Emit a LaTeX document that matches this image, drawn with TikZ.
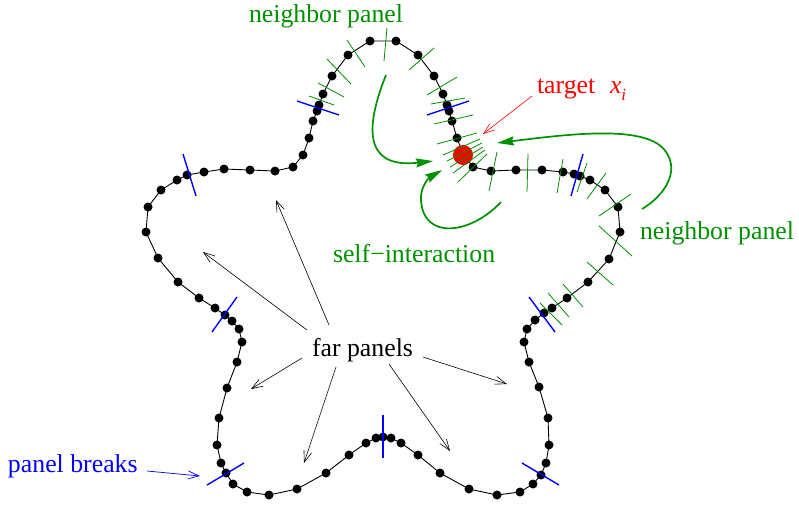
\documentclass[tikz,border=0pt]{standalone}
\usepackage{fontspec}
\setmainfont{Liberation Serif}
\usetikzlibrary{arrows.meta}
\definecolor{gr}{RGB}{0,145,0}
\definecolor{bl}{RGB}{0,0,255}
\definecolor{rd}{RGB}{255,0,0}
\tikzset{
  lbl/.style={font=\fontsize{25.8}{30}\selectfont, inner sep=0pt, outer sep=0pt, anchor=base west},
  curveline/.style={black, line width=0.9pt, line join=round},
  dotfill/.style={fill=black},
  gtick/.style={gr, line width=0.8pt},
  btick/.style={bl, line width=1.4pt},
  garrow/.style={gr, line width=1.7pt, -{Stealth[length=17pt,width=9pt,inset=2pt]}},
  fararrow/.style={black, line width=0.6pt, -{Straight Barb[length=11pt,width=8pt]}},
  rarrow/.style={rd, line width=0.6pt, -{Straight Barb[length=11pt,width=8pt]}},
  barrow/.style={bl, line width=0.7pt, -{Straight Barb[length=11pt,width=8pt]}},
}
\begin{document}
\begin{tikzpicture}[x=1pt,y=-1pt]
\useasboundingbox (0,0) rectangle (799,512);
% curve
\draw[curveline] (370,41)--(396,41)--(418,55)--(434,76)--(443,94)--(447,105)--(449,111)--(452,121)--(457,138)--(463,154)--(473,167)--(491,171)--(516,170)--(542,170)--(563,172)--(574,174)--(580,176)--(590,180)--(605,190)--(618,207)--(620,232)--(609,259)--(588,282)--(567,298)--(552,308)--(544,313)--(535,320)--(527,329)--(524,342)--(529,362)--(539,387)--(548,418)--(549,445)--(546,463)--(541,475)--(533,484)--(520,492)--(497,495)--(469,489)--(440,473)--(418,455)--(401,443)--(391,438)--(383,437)--(376,438)--(366,443)--(349,455)--(326,473)--(297,489)--(269,495)--(247,492)--(233,484)--(226,473)--(221,463)--(217,445)--(219,418)--(227,388)--(237,362)--(242,342)--(239,329)--(232,321)--(225,315)--(215,308)--(199,298)--(178,282)--(158,258)--(146,232)--(148,207)--(161,190)--(177,180)--(187,175)--(204,172)--(224,169)--(250,170)--(275,171)--(293,167)--(303,155)--(309,138)--(313,121)--(317,111)--(319,105)--(323,94)--(332,76)--(348,55)--cycle;
% dots
\foreach \p in {(370,41),(396,41),(418,55),(434,76),(443,94),(447,105),(449,111),(452,121),(457,138),(473,167),(491,171),(516,170),(542,170),(563,172),(574,174),(580,176),(590,180),(605,190),(618,207),(620,232),(609,259),(588,282),(567,298),(552,308),(544,313),(535,320),(527,329),(524,342),(529,362),(539,387),(548,418),(549,445),(546,463),(541,475),(533,484),(520,492),(497,495),(469,489),(440,473),(418,455),(401,443),(391,438),(383,437),(376,438),(366,443),(349,455),(326,473),(297,489),(269,495),(247,492),(233,484),(226,473),(221,463),(217,445),(219,418),(227,388),(237,362),(242,342),(239,329),(232,321),(225,315),(215,308),(199,298),(178,282),(158,258),(146,232),(148,207),(161,190),(177,180),(187,175),(204,172),(224,169),(250,170),(275,171),(293,167),(303,155),(309,138),(313,121),(317,111),(319,105),(323,94),(332,76),(348,55)}
  \fill[dotfill] \p circle (4.5pt);
% target
\fill[rd] (463,155) circle (10pt);
% green ticks
\foreach \xa/\ya/\xb/\yb in {309/96/334/105, 318/83/344/97, 327/59/351/84, 347/40/365/67, 387/28/384/61, 409/70/434/48, 427/95/457/77, 431/104/465/98,
  434/124/473/115, 437/144/477/133, 443/155/480/139, 447/161/482/143, 450/167/483/147, 453/173/485/150, 458/182/487/154,
  497/152/489/191, 528/154/527/192, 563/159/557/193, 587/163/577/192,
  606/173/587/199, 631/194/599/216, 599/226/632/256, 587/262/613/285, 563/284/583/307, 548/293/569/317, 540/303/562/325}
  \draw[gtick] (\xa,\ya) -- (\xb,\yb);
% blue ticks (panel breaks)
\foreach \xa/\ya/\xb/\yb in {297/101/339/115, 427/115/469/101, 571/196/583/154, 529/297/555/332, 522/463/559/485, 383/415/383/458, 207/485/244/463, 237/297/212/332, 183/154/196/196}
  \draw[btick] (\xa,\ya) -- (\xb,\yb);
% labels
\node[lbl, text=gr] (ntop) at (249,22) {neighbor panel};
\node[lbl, text=gr] (nright) at (640,239) {neighbor panel};
\node[lbl, text=gr] (self) at (333,262) {self−interaction};
\node[lbl] (far) at (312,356) {far panels};
\node[lbl, text=bl] (breaks) at (8,472) {panel breaks};
\node[lbl, text=rd] (tgt) at (537,93) {target};
\node[lbl, text=rd] (xi) at (610,93) {\textit{x}\raisebox{-0.3em}{\fontsize{17}{20}\selectfont\textit{i}}};
% green arrows
\coordinate (aA0) at (386,75); \coordinate (aA1) at (433,161);
\draw[garrow] (aA0) .. controls (360,140) and (372,168) .. (aA1);
\coordinate (aB0) at (501,202); \coordinate (aBm) at (421,200); \coordinate (aB1) at (442,170);
\draw[garrow] (aB0) .. controls (470,235) and (423,240) .. (aBm) .. controls (420,186) and (430,177) .. (aB1);
\coordinate (aC0) at (642,209); \coordinate (aCm) at (666,152); \coordinate (aC1) at (497,143);
\draw[garrow] (aC0) .. controls (664,196) and (680,172) .. (aCm) .. controls (648,124) and (570,134) .. (aC1);
% red arrow
\coordinate (rt) at (532,96); \coordinate (rh) at (483,134);
\draw[rarrow] (rt) -- (rh);
% blue arrow
\coordinate (bt) at (147,471); \coordinate (bh) at (200,476);
\draw[barrow] (bt) -- (bh);
% far panel arrows
\foreach \xa/\ya/\xb/\yb in {329/325/276/200, 307/330/203/252, 302/358/251/389, 336/367/304/463, 389/364/450/451, 423/357/507/384}
  \draw[fararrow] (\xa,\ya) -- (\xb,\yb);
\end{tikzpicture}
\end{document}
